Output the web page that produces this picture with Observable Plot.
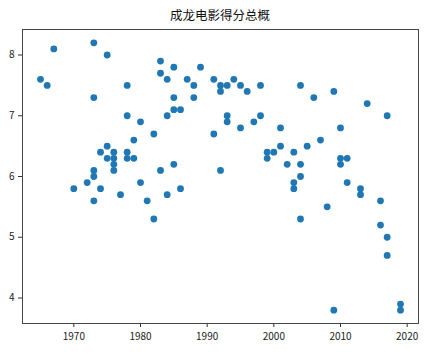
<!DOCTYPE html>
<html>
<head>
<meta charset="utf-8">
<script src="https://cdn.jsdelivr.net/npm/d3@7"></script>
<script src="https://cdn.jsdelivr.net/npm/@observablehq/plot@0.6"></script>
<style>
  html, body { margin: 0; padding: 0; background: #fff; }
  body { width: 435px; height: 355px; overflow: hidden; }
  #title { height: 28px; width: 440px; text-align: center; font-family: "Noto Sans CJK SC", sans-serif; font-size: 12.5px; line-height: 30px; color: #111; }
  svg { display: block; }
</style>
</head>
<body>
<div id="title">成龙电影得分总概</div>
<div id="chart"></div>
<script>
const years = [1965,1966,1967,1970,1972,1973,1973,1973,1973,1973,1974,1974,1975,1975,1975,1976,1976,1976,1976,1977,1978,1978,1978,1978,1979,1979,1980,1980,1981,1982,1982,1983,1983,1983,1984,1984,1984,1985,1985,1985,1985,1986,1986,1987,1988,1988,1989,1991,1991,1992,1992,1992,1993,1993,1993,1994,1995,1995,1996,1997,1998,1998,1999,1999,2000,2001,2001,2002,2003,2003,2003,2004,2004,2004,2004,2005,2006,2007,2008,2009,2009,2010,2010,2010,2011,2011,2013,2013,2014,2016,2016,2017,2017,2017,2019,2019];
const scores = [7.6,7.5,8.1,5.8,5.9,8.2,7.3,6.1,6.0,5.6,6.4,5.8,8.0,6.5,6.3,6.4,6.3,6.2,6.1,5.7,7.5,7.0,6.4,6.3,6.6,6.3,6.9,5.9,5.6,6.7,5.3,7.9,7.7,6.1,7.6,7.0,5.7,7.8,7.3,7.1,6.2,7.1,5.8,7.6,7.5,7.3,7.8,7.6,6.7,7.5,7.4,6.1,7.5,7.0,6.9,7.6,7.5,6.8,7.4,6.9,7.5,7.0,6.4,6.3,6.4,6.8,6.5,6.2,6.4,5.9,5.8,7.5,6.2,6.0,5.3,6.5,7.3,6.6,5.5,7.4,3.8,6.8,6.3,6.2,6.3,5.9,5.8,5.7,7.2,5.6,5.2,7.0,5.0,4.7,3.9,3.8];
const xTicks = [1970,1980,1990,2000,2010,2020];
const yTicks = [4,5,6,7,8];

const data = years.map((y, i) => ({year: y, score: scores[i]}));

const chart = Plot.plot({
  width: 435,
  height: 327,
  marginTop: 1,
  marginBottom: 32,
  marginLeft: 22,
  marginRight: 17,
  style: {fontFamily: "'Noto Sans CJK SC', 'DejaVu Sans', sans-serif", fontSize: "10px", color: "#222", background: "#fff"},
  x: {domain: [1962.3, 2021.7]},
  y: {domain: [3.58, 8.42]},
  marks: [
    Plot.axisX({ticks: xTicks, tickFormat: d => String(d), tickSize: 4, tickPadding: 5, label: null, stroke: "#333"}),
    Plot.axisY({ticks: yTicks, tickFormat: d => String(d), tickSize: 4, tickPadding: 4, label: null, stroke: "#333"}),
    Plot.dot(data, {x: "year", y: "score", r: 3.4, fill: "#1f77b4", stroke: "none"}),
    Plot.frame({stroke: "#333", strokeWidth: 0.9})
  ]
});
document.getElementById("chart").appendChild(chart);
</script>
</body>
</html>
